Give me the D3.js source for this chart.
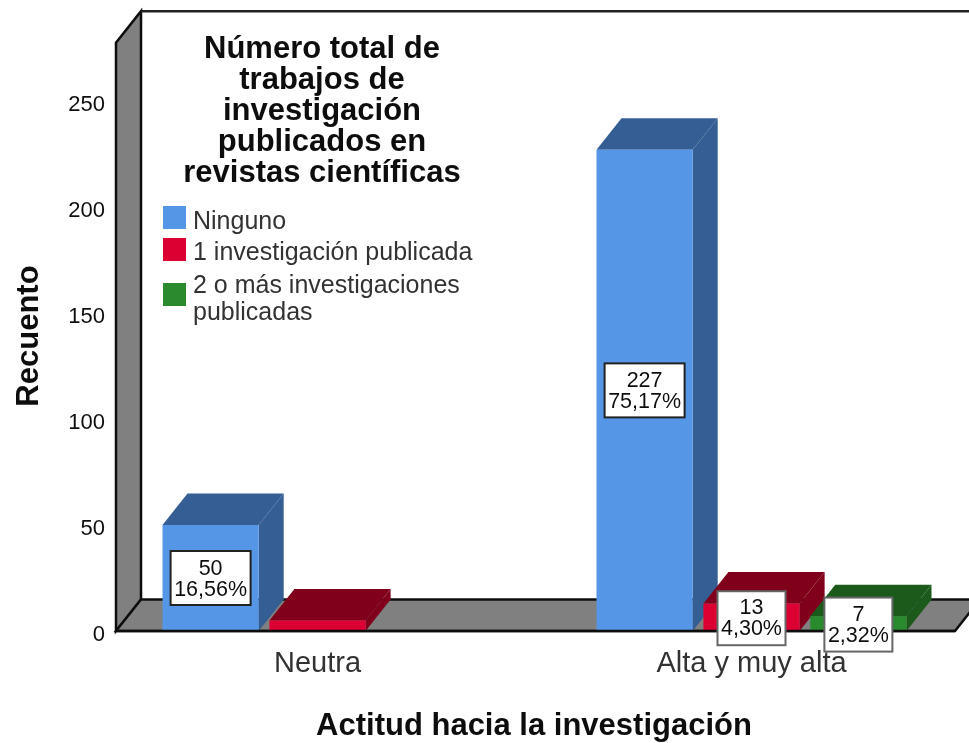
<!DOCTYPE html>
<html><head><meta charset="utf-8">
<style>html,body{margin:0;padding:0;background:#fff}svg{display:block}text{font-family:"Liberation Sans",Arial,sans-serif;fill:#111}</style>
<script src="https://cdn.jsdelivr.net/npm/d3@7"></script></head>
<body><svg id="c" width="969" height="743"><defs><filter id="soft" x="0" y="0" width="100%" height="100%"><feGaussianBlur stdDeviation="0.45"/></filter></defs></svg>
<script>
const categories=["Neutra","Alta y muy alta"];
const seriesNames=["Ninguno","1 investigación publicada","2 o más investigaciones publicadas"];
const ninguno=[50,227];
const unaPublicada=[5,13];
const dosOMas=[0,7];
const pctNinguno=["16,56%","75,17%"];
const pctUna=[null,"4,30%"];
const pctDos=[null,"2,32%"];
const tickValues=[0,50,100,150,200,250];
const frontColors=["#5596e6","#dc0032","#2a8a2f"];
const darkColors=["#355f94","#80001e","#1c5a1e"];
const legendTitle=["Número total de","trabajos de","investigación","publicados en","revistas científicas"];

const svg=d3.select("#c").append("g").attr("filter","url(#soft)");
svg.append("rect").attr("width",969).attr("height",743).attr("fill","#fff");
const x0=d3.scaleBand().domain(categories).range([100.5,968.5]);
const x1=d3.scaleBand().domain(seriesNames).range([-155,155]).paddingInner(0.1);
const y=d3.scaleLinear().domain([0,250]).range([631,101]);
const dx=25,dy=-31.5;
const poly=p=>p.map(a=>a.join(",")).join(" ");
const yTop=277.5;
const y0=y(0),yT=y(yTop);
// walls
const g=svg.append("g").attr("stroke-linejoin","miter");
g.append("polygon").attr("points",poly([[116,y0],[116+dx,y0+dy],[116+dx,yT+dy],[116,yT]])).attr("fill","#808080").attr("stroke","#111").attr("stroke-width",2.5);
g.append("polygon").attr("points",poly([[116,y0],[116+dx,y0+dy],[980,y0+dy],[955,y0]])).attr("fill","#808080").attr("stroke","#111").attr("stroke-width",2.5);
g.append("line").attr("x1",116+dx).attr("x2",969).attr("y1",yT+dy).attr("y2",yT+dy).attr("stroke","#222").attr("stroke-width",2.5);
// bars
const rows=[ninguno,unaPublicada,dosOMas];
const bars=[];
seriesNames.forEach((s,si)=>categories.forEach((c,ci)=>{
  bars.push({s,si,c,ci,v:rows[si][ci],p:[pctNinguno,pctUna,pctDos][si][ci]});
}));
const barG=svg.append("g");
bars.filter(d=>d.v>0).forEach(d=>{
  const l=x0(d.c)+x0.bandwidth()/2+x1(d.s),r=l+x1.bandwidth(),t=y(d.v),b=y(0);
  const bg=barG.append("g");
  bg.append("polygon").attr("points",poly([[r,t],[r+dx,t+dy],[r+dx,b+dy],[r,b]])).attr("fill",darkColors[d.si]);
  bg.append("polygon").attr("points",poly([[l,t],[l+dx,t+dy],[r+dx,t+dy],[r,t]])).attr("fill",darkColors[d.si]);
  bg.append("rect").attr("x",l).attr("y",t).attr("width",r-l).attr("height",b-t).attr("fill",frontColors[d.si]);
});
// baseline redraw
svg.append("line").attr("x1",116).attr("x2",955).attr("y1",y0).attr("y2",y0).attr("stroke","#111").attr("stroke-width",2.5);
// multi-line text as one element
const lines=(sel,arr,x,yStart,lh)=>sel.selectAll("tspan").data(arr).join("tspan").attr("x",x).attr("y",(d,i)=>yStart+i*lh).text(d=>d);
// data labels
bars.filter(d=>d.p).forEach(d=>{
  const cx=x0(d.c)+x0.bandwidth()/2+x1(d.s)+x1.bandwidth()/2,cy=(y(d.v)+y(0))/2;
  const lg=svg.append("g");
  const w=d.si===0?80:68,h=54;
  const dark=d.si===0;
  lg.append("rect").attr("x",cx-w/2).attr("y",cy-h/2+(dark?0:1)).attr("width",w).attr("height",h).attr("fill","#fff").attr("stroke",dark?"#222":"#666").attr("stroke-width",2);
  lg.append("text").attr("text-anchor","middle").attr("font-size",21.5).call(lines,[d.v,d.p],cx,cy-3,21);
});
// y axis
const ax=svg.append("g").attr("transform","translate(105,2)").call(d3.axisLeft(y).tickValues(tickValues).tickSize(0).tickPadding(0));
ax.select(".domain").remove();
ax.selectAll("text").attr("font-size",22).style("font-family","Liberation Sans");
// x axis
const xa=svg.append("g").attr("transform","translate(0,651)").call(d3.axisBottom(x0).tickSize(0).tickPadding(0));
xa.select(".domain").remove();
xa.selectAll("text").attr("font-size",29).attr("dy","0.72em").attr("y",0).style("font-family","Liberation Sans").style("fill","#333");
// axis titles
svg.append("text").attr("transform","translate(38,336) rotate(-90)").attr("text-anchor","middle").attr("font-size",31).attr("font-weight","bold").text("Recuento");
svg.append("text").attr("x",534).attr("y",735).attr("text-anchor","middle").attr("font-size",31).attr("font-weight","bold").text("Actitud hacia la investigación");
// legend
svg.append("text").attr("text-anchor","middle").attr("font-size",31).attr("font-weight","bold").call(lines,legendTitle,322,58,31);
const swY=[206,238,283];
svg.append("g").selectAll("rect").data(seriesNames).join("rect").attr("x",163).attr("y",(d,i)=>swY[i]).attr("width",23).attr("height",23).attr("fill",(d,i)=>frontColors[i]);
const legLines=[["Ninguno"],["1 investigación publicada"],["2 o más investigaciones","publicadas"]];
const legY=[229,260,293];
legLines.forEach((ls,i)=>svg.append("text").attr("font-size",25).style("fill","#333").call(lines,ls,193,legY[i],27));
</script></body></html>
